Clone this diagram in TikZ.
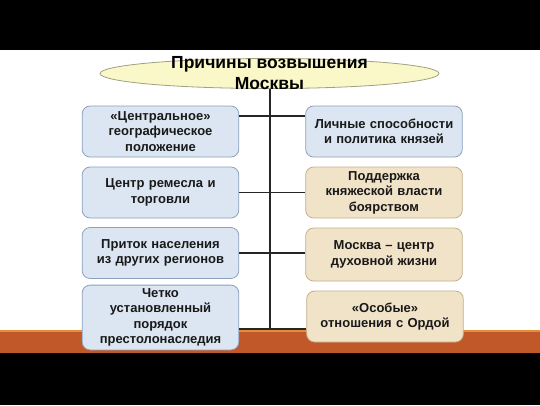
\documentclass[tikz,border=0pt]{standalone}
\usepackage{fontspec}
\setmainfont{Liberation Sans}
\usetikzlibrary{shapes.geometric}
\definecolor{boxblue}{RGB}{220,230,242}
\definecolor{edgeblue}{RGB}{140,160,190}
\definecolor{boxsand}{RGB}{240,227,200}
\definecolor{edgesand}{RGB}{196,176,138}
\definecolor{ovalfill}{RGB}{250,248,200}
\definecolor{ovaledge}{RGB}{160,160,130}
\definecolor{bandorange}{RGB}{192,88,42}
\definecolor{bandlight}{RGB}{232,142,50}

\begin{document}
\begin{tikzpicture}[x=1pt, y=-1pt,
		cause/.style={draw=edgeblue, fill=boxblue, line width=0.8pt, rounded corners=8pt,
			minimum width=155pt, minimum height=51pt, text width=150pt, align=center,
			font=\bfseries\fontsize{13}{15.5}\selectfont, text=black!90},
		causesand/.style={cause, draw=edgesand, fill=boxsand},
		conn/.style={line width=1.4pt, black!85}]
		%%%%% START %%%%%
		
		\useasboundingbox (0, 0) rectangle (540, 405);
		\fill[white] (0, 0) rectangle (540, 405);
		
		\fill[bandorange] (0, 330) rectangle (540, 353);
		\fill[bandlight] (0, 330) rectangle (540, 332);
		\fill[black] (0, 0) rectangle (540, 50);
		\fill[black] (0, 353) rectangle (540, 405);
		
		\coordinate (trunk) at (270, 329);
		\coordinate (top) at (270, 80);
		\draw[conn] (top) -- (trunk);
		
		\node[ellipse, draw=ovaledge, fill=ovalfill, line width=0.8pt, minimum width=339pt, minimum height=30pt] (oval) at (269.5, 73.5) {};
		\node[align=center, font=\bfseries\fontsize{17.5}{21}\selectfont] (title) at (oval) {Причины возвышения\\Москвы};
		
		\node[cause] (l1) at (160.5, 131.5) {«Центральное»\\географическое\\положение};
		\node[cause] (l2) at (160.5, 192.5) {Центр ремесла и\\торговли};
		\node[cause] (l3) at (160.5, 253) {Приток населения\\из других регионов};
		\node[cause, minimum height=53pt] (l4) at (160.5, 317.5) {Четко\\установленный\\порядок\\престолонаследия};
		
		\node[cause] (r1) at (384, 131.5) {Личные способности\\и политика князей};
		\node[causesand] (r2) at (384, 192.5) {Поддержка\\княжеской власти\\боярством};
		\node[causesand, minimum height=53pt] (r3) at (384, 254.5) {Москва – центр\\духовной жизни};
		\node[causesand] (r4) at (385, 316.5) {«Особые»\\отношения с Ордой};
		
		\draw[conn] ([yshift=15.5pt]l1.east) -- ([yshift=15.5pt]r1.west);
		\draw[conn] (l2.east) -- (r2.west);
		\draw[conn] (l3.east) -- (l3.east -| r3.west);
		\draw[conn] ([yshift=-11.5pt]l4.east) -- ([yshift=-12.5pt]r4.west);
		
		%%%%% END %%%%%
	\end{tikzpicture}
\end{document}
